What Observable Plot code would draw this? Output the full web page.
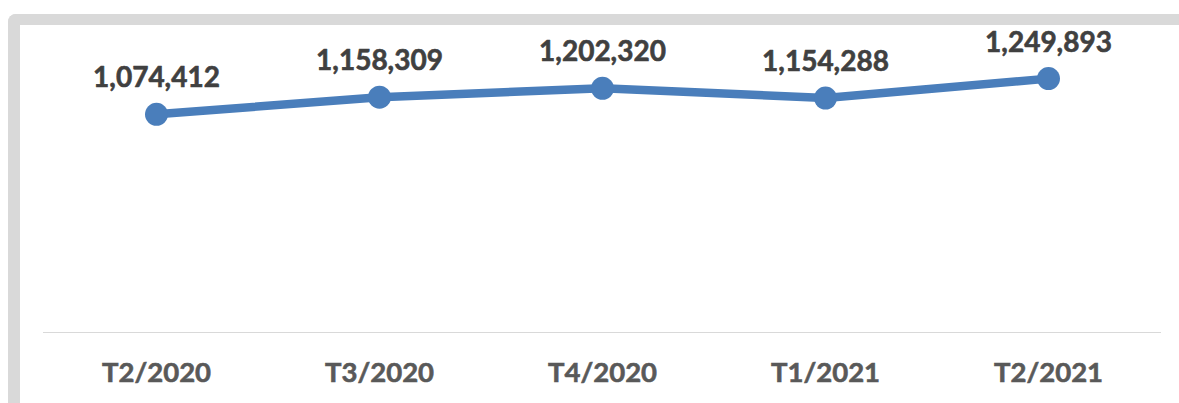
<!DOCTYPE html>
<html>
<head>
<meta charset="utf-8">
<script src="https://cdn.jsdelivr.net/npm/d3@7"></script>
<script src="https://cdn.jsdelivr.net/npm/@observablehq/plot@0.6"></script>
<style>
  html, body { margin: 0; padding: 0; background: #fff; overflow: hidden; }
  #wrap { position: relative; width: 1179px; height: 403px; }
  #frame {
    position: absolute; left: 8px; top: 14px; width: 1300px; height: 500px;
    border-top: 11px solid #d9d9d9; border-left: 12px solid #d9d9d9;
    border-top-left-radius: 8px; box-sizing: border-box;
  }
  #chart { position: absolute; left: 0; top: 0; }
  #chart svg { background: transparent; }
  #chart svg g[aria-label="x-axis tick label"] text { stroke: #595959; stroke-width: 0.6px; paint-order: stroke; }
</style>
</head>
<body>
<div id="wrap"><div id="frame"></div><div id="chart"></div></div>
<script>
const periods = ["T2/2020", "T3/2020", "T4/2020", "T1/2021", "T2/2021"];
const values = [1074412, 1158309, 1202320, 1154288, 1249893];

const data = periods.map((p, i) => ({period: p, value: values[i]}));
const fmt = d3.format(",");

const chart = Plot.plot({
  width: 1179,
  height: 403,
  marginTop: 7,
  marginBottom: 71,
  marginLeft: 43,
  marginRight: 18,
  style: {fontFamily: "Lato, sans-serif", background: "transparent"},
  x: {type: "point", domain: periods, padding: 0.5, label: null},
  y: {domain: [0, 1600000], axis: null},
  marks: [
    Plot.ruleY([0], {stroke: "#d9d9d9", strokeWidth: 1.2}),
    Plot.axisX({tickSize: 0, tickPadding: 30, fontSize: 27.5, fontWeight: "bold", fill: "#595959", label: null}),
    Plot.line(data, {x: "period", y: "value", stroke: "#4a7ebb", strokeWidth: 8.5, strokeLinecap: "round", strokeLinejoin: "round"}),
    Plot.dot(data, {x: "period", y: "value", r: 11.5, fill: "#4a7ebb", stroke: "none"}),
    Plot.text(data, {x: "period", y: "value", text: d => fmt(d.value), lineAnchor: "bottom", dy: -27, fontSize: 28, fontWeight: "bold", fill: "#404040", stroke: "#404040", strokeWidth: 0.6})
  ]
});
document.getElementById("chart").appendChild(chart);
</script>
</body>
</html>
